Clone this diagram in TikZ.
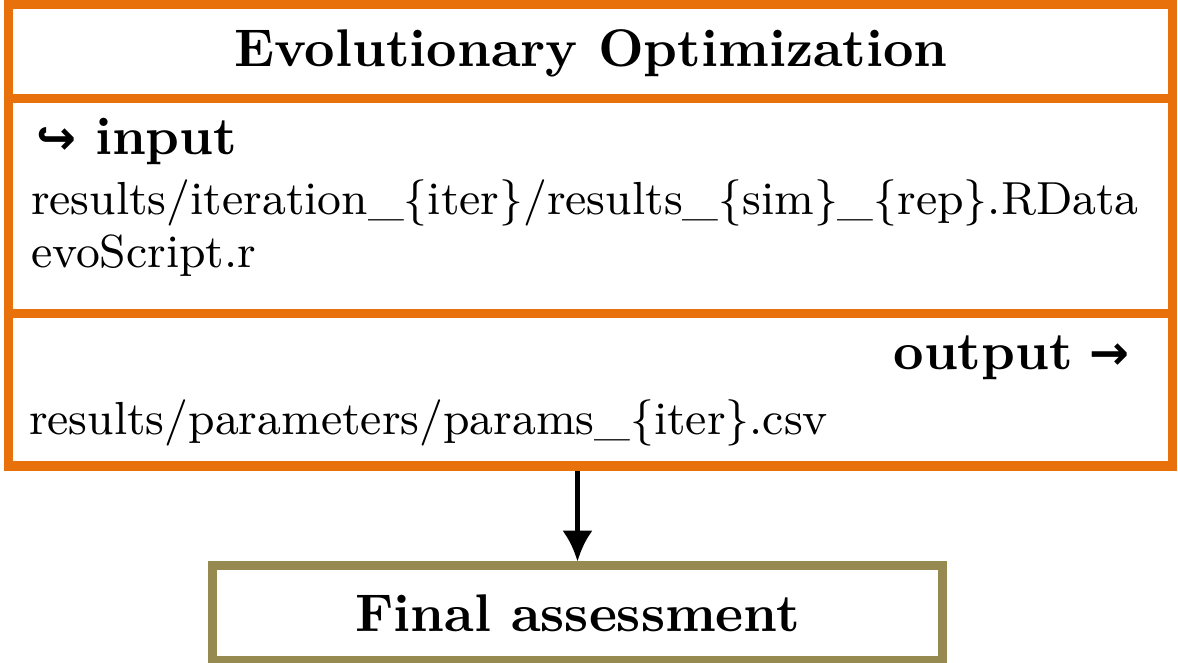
\documentclass[tikz,border=0pt]{standalone}
\usepackage{fontspec}
\usetikzlibrary{arrows.meta}
\newfontfamily\arrowfont{DejaVu Sans}[BoldFont={* Bold}]
\definecolor{evoorange}{RGB}{232,113,12}
\definecolor{finalolive}{RGB}{150,138,80}
\begin{document}
\begin{tikzpicture}[x=0.18868pt,y=-0.18868pt,
  box/.style={draw, line width=1.7pt, inner sep=0pt},
  divider/.style={draw=evoorange, line width=1.7pt},
  txt/.style={inner sep=0pt, font=\fontsize{8.75}{10}\selectfont},
  flow/.style={-{Latex[length=5.8pt,width=5.7pt]}, line width=1pt}]
\useasboundingbox (0,0) rectangle (1178,663);
\node[box, draw=evoorange, minimum width=219.53pt, minimum height=87.08pt] (evo) at (590.25,235.25) {};
\draw[divider] (8.5,99) -- (1172,99);
\draw[divider] (8.5,313.5) -- (1172,313.5);
\node[anchor=base, inner sep=0pt, font=\bfseries] (title) at (591,67) {Evolutionary Optimization};
\node[anchor=base west, inner sep=0pt] (inlabel) at (35,155) {{\arrowfont\bfseries\fontsize{9}{10}\selectfont ↪}\hspace{3.6pt}\textbf{input}};
\node[txt, anchor=base west] (in1) at (30,215) {results/iteration\_\{iter\}/results\_\{sim\}\_\{rep\}.RData};
\node[txt, anchor=base west] (in2) at (30,268) {evoScript.r};
\node[anchor=base east, inner sep=0pt] (outlabel) at (1131,370) {\textbf{output}\hspace{3.2pt}{\arrowfont\bfseries\fontsize{9}{10}\selectfont →}};
\node[txt, anchor=base west] (out1) at (28,435) {results/parameters/params\_\{iter\}.csv};
\node[box, draw=finalolive, minimum width=137.55pt, minimum height=17.92pt, font=\bfseries] (final) at (577.5,613.5) {Final assessment};
\draw[flow] (evo.south -| final.north) -- (final.north);
\coordinate (prev) at (573,-120);
\draw[flow] (prev) -- (prev |- evo.north);
\end{tikzpicture}
\end{document}
